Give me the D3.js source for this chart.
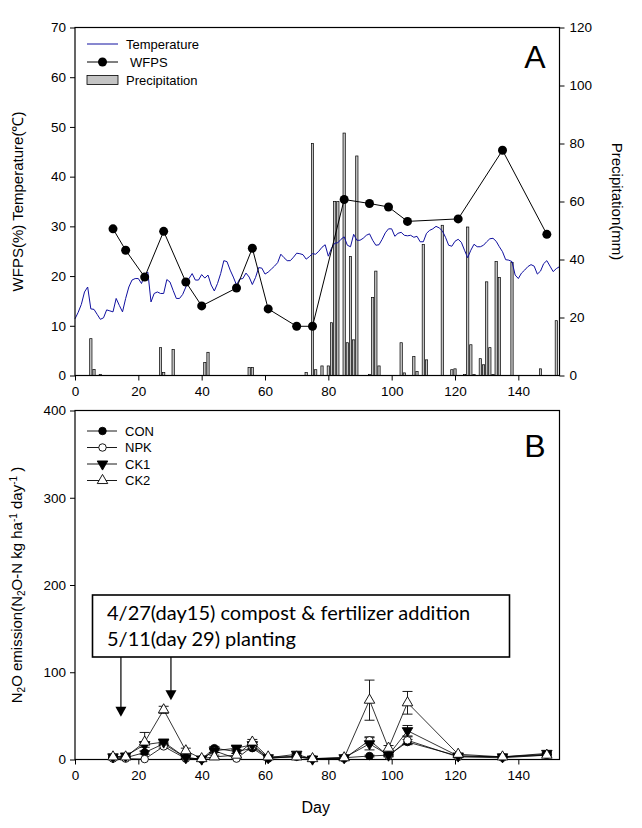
<!DOCTYPE html>
<html><head><meta charset="utf-8">
<script src="https://cdn.jsdelivr.net/npm/d3@7"></script>
<style>body{margin:0;background:#fff}svg{display:block}</style>
</head><body><svg id="c" width="642" height="828"></svg>
<script>
// ---------- DATA ----------
const tempStartDay = 0;
const temperature = [11.4,12.7,14.3,16.8,17.8,13.4,13.3,12.3,11.3,11.6,13.2,13.0,12.8,15.5,14.1,12.8,15.5,17.8,19.2,19.5,
19.5,18.5,20.2,20.8,14.8,16.5,16.8,16.5,16.5,19.3,18.8,17.1,15.5,15.5,16.3,17.8,19.5,20.5,19.2,19.2,
20.3,19.6,20.2,18.2,17.0,18.5,20.5,23.1,22.9,21.2,19.8,18.2,19.4,19.5,20.6,19.8,18.3,19.7,21.7,21.6,
20.4,20.8,21.4,22.0,22.7,24.4,23.7,23.1,23.1,23.8,24.6,24.5,24.3,23.4,23.9,24.5,24.4,25.0,25.8,26.3,
24.0,25.6,26.6,26.7,27.4,27.9,26.2,25.9,28.4,27.2,27.2,27.6,28.2,28.5,27.2,26.2,26.3,27.4,28.7,29.5,
29.5,28.0,28.6,28.8,28.2,28.1,28.2,27.8,28.0,26.9,26.9,28.6,29.2,29.5,30.0,29.7,29.1,27.8,26.2,26.0,
27.0,27.4,26.8,25.2,23.7,25.2,26.4,25.9,25.9,26.2,26.9,27.5,27.6,27.0,25.9,24.9,23.3,23.2,22.9,20.2,
19.5,20.6,21.2,21.9,22.3,22.0,20.4,21.0,22.5,23.1,22.0,20.9,21.5,21.9];
const wfpsDays = [12,16,22,28,35,40,51,56,61,70,75,85,93,99,105,121,135,149];
const wfps     = [29.5,25.2,19.8,29.0,18.8,14.0,17.6,25.6,13.4,9.9,9.9,35.4,34.6,33.9,31.0,31.5,45.3,28.4];
const precipDays = [5,6,8,27,28,31,41,42,55,56,73,75,76,78,80,81,82,83,85,86,87,88,89,93,94,95,96,103,104,107,108,110,111,116,119,120,123,124,125,126,128,129,130,131,132,133,134,138,147,152];
const precipMm   = [12.7,2.1,0.4,9.6,1.0,9.0,4.5,8.0,2.8,2.8,1.0,80,2.0,3.3,3.3,18.2,60,60,83.6,11.3,41,12.3,75.7,0.4,26.9,36,3.3,11.3,0.9,6.5,1.4,45.2,5.4,51.8,2.0,2.3,0.3,51.2,10.6,0.3,5.8,3.7,32.3,9.6,0.3,39.3,33.8,39,2.3,18.9];

const xTicks  = [0,20,40,60,80,100,120,140];
const yTicksA = [0,10,20,30,40,50,60,70];
const yTicksP = [0,20,40,60,80,100,120];
const yTicksB = [0,100,200,300,400];

const n2oDays = [12,16,22,28,35,40,44,51,56,61,70,75,85,93,99,105,121,135,149];
const CON  = [2,2,8,18,2,0.5,13,9,13,1,4,1,2,4,5,20,4,3,6];
const NPK  = [1,1,0.5,15,1,0.5,10,1,15,2,3,1,1,22,4,22,3,2,5];
const CK1  = [3,4,17,20,2,0.5,10,13,17,2,6,0.5,2,18,5,33,4,3,7];
const CK2  = [3,3,20,57,10,1,3,5,20,3,3,1,2,68,13,65,6,3,5];
const CONerr = [1,1,2,2,1,0,2,2,2,0,1,0,0,1,1,3,1,1,1];
const NPKerr = [1,1,0,2,0,0,2,0,2,0,1,0,0,4,1,4,1,0,1];
const CK1err = [1,1,3,2,1,0,2,2,2,0,1,0,0,7,1,6,1,1,1];
const CK2err = [1,1,11,4,3,0,2,2,3,1,1,0,1,23,3,13,1,1,1];
const seriesNames = ["CON","NPK","CK1","CK2"];

const annotationLines = ["4/27(day15) compost & fertilizer addition","5/11(day 29) planting"];
const arrowDays = [14.5,30.3];
const arrowTips = [49,68];

// ---------- LAYOUT ----------
const svg = d3.select("#c");
const FONT = "'Liberation Sans', Arial, sans-serif";
const x  = d3.scaleLinear().domain([0,153]).range([75,559.5]);
const yA = d3.scaleLinear().domain([0,70]).range([375.5,27.5]);
const yP = d3.scaleLinear().domain([0,120]).range([375.5,27.5]);
const yB = d3.scaleLinear().domain([0,400]).range([759.5,410.5]);

function styleAxis(g, fs){
  g.selectAll("text").attr("font-family",FONT).attr("font-size",fs).attr("fill","#000");
  g.selectAll("line").attr("stroke","#000");
  g.select(".domain").remove();
}

// ---------- PANEL A ----------
const A = svg.append("g");
const bw = 2.3;
A.selectAll("rect.bar").data(precipDays).join("rect")
  .attr("x", (d)=>x(d)-bw/2).attr("width",bw)
  .attr("y",(d,i)=>yP(precipMm[i])).attr("height",(d,i)=>yP(0)-yP(precipMm[i]))
  .attr("fill","#c4c4c4").attr("stroke","#000").attr("stroke-width",0.7);

const tempData = temperature.map((v,i)=>[tempStartDay+i,v]);
A.append("path").datum(tempData)
  .attr("d", d3.line().x(d=>x(d[0])).y(d=>yA(d[1])))
  .attr("fill","none").attr("stroke","#1010a0").attr("stroke-width",1);

const wData = wfpsDays.map((d,i)=>[d,wfps[i]]);
A.append("path").datum(wData)
  .attr("d", d3.line().x(d=>x(d[0])).y(d=>yA(d[1])))
  .attr("fill","none").attr("stroke","#000").attr("stroke-width",1);
A.selectAll("circle.w").data(wData).join("circle")
  .attr("cx",d=>x(d[0])).attr("cy",d=>yA(d[1])).attr("r",4.5).attr("fill","#000");

A.append("rect").attr("x",x(0)).attr("y",yA(70)).attr("width",x(153)-x(0)).attr("height",yA(0)-yA(70))
  .attr("fill","none").attr("stroke","#000").attr("stroke-width",1.2);

A.append("g").attr("transform",`translate(${x(0)},0)`)
  .call(d3.axisLeft(yA).tickValues(yTicksA).tickSize(5).tickPadding(4).tickSizeOuter(0))
  .call(g=>styleAxis(g,13.5));
A.append("g").attr("transform",`translate(${x(153)},0)`)
  .call(d3.axisRight(yP).tickValues(yTicksP).tickSize(5).tickPadding(5).tickSizeOuter(0))
  .call(g=>styleAxis(g,13.5));
A.append("g").attr("transform",`translate(0,${yA(0)})`)
  .call(d3.axisBottom(x).tickValues(xTicks).tickSize(5).tickPadding(6).tickSizeOuter(0))
  .call(g=>styleAxis(g,13.5));

A.append("text").attr("transform",`translate(23,${(yA(0)+yA(70))/2}) rotate(-90)`)
  .attr("text-anchor","middle").attr("font-family",FONT).attr("font-size",15)
  .text("WFPS(%) Temperature(℃)");
A.append("text").attr("transform",`translate(612,${(yA(0)+yA(70))/2}) rotate(90)`)
  .attr("text-anchor","middle").attr("font-family",FONT).attr("font-size",15)
  .text("Precipitation(mm)");
A.append("text").attr("x",535).attr("y",68).attr("text-anchor","middle")
  .attr("font-family",FONT).attr("font-size",32).text("A");

const LA = A.append("g").attr("font-family",FONT).attr("font-size",13);
LA.append("line").attr("x1",87).attr("x2",118).attr("y1",44).attr("y2",44).attr("stroke","#1010a0");
LA.append("text").attr("x",126).attr("y",48.5).text("Temperature");
LA.append("line").attr("x1",87).attr("x2",118).attr("y1",62).attr("y2",62).attr("stroke","#000");
LA.append("circle").attr("cx",102.5).attr("cy",62).attr("r",4.5).attr("fill","#000");
LA.append("text").attr("x",130).attr("y",66.5).text("WFPS");
LA.append("rect").attr("x",87).attr("y",75.5).attr("width",31).attr("height",9).attr("fill","#c4c4c4").attr("stroke","#000").attr("stroke-width",0.8);
LA.append("text").attr("x",126).attr("y",84.5).text("Precipitation");

// ---------- PANEL B ----------
const B = svg.append("g");
B.append("rect").attr("x",x(0)).attr("y",yB(400)).attr("width",x(153)-x(0)).attr("height",yB(0)-yB(400))
  .attr("fill","none").attr("stroke","#000").attr("stroke-width",1.2);

B.append("g").attr("transform",`translate(${x(0)},0)`)
  .call(d3.axisLeft(yB).tickValues(yTicksB).tickSize(5).tickPadding(4).tickSizeOuter(0))
  .call(g=>styleAxis(g,13.5));
B.append("g").attr("transform",`translate(0,${yB(0)})`)
  .call(d3.axisBottom(x).tickValues(xTicks).tickSize(5).tickPadding(6).tickSizeOuter(0))
  .call(g=>styleAxis(g,13.5));

const series = [
  {name:"CON", v:CON, e:CONerr, type:"circle", fill:"#000"},
  {name:"NPK", v:NPK, e:NPKerr, type:"circle", fill:"#fff"},
  {name:"CK1", v:CK1, e:CK1err, type:"down", fill:"#000"},
  {name:"CK2", v:CK2, e:CK2err, type:"up", fill:"#fff"}
];
const sym = {circle:d3.symbol(d3.symbolCircle,44), up:d3.symbol(d3.symbolTriangle,48),
             down:d3.symbol(d3.symbolTriangle,48)};
function marker(g, s, cx, cy){
  const p = g.append("path").attr("d", sym[s.type]())
    .attr("fill", s.fill).attr("stroke","#000").attr("stroke-width",0.9);
  p.attr("transform", `translate(${cx},${cy})` + (s.type==="down"?" rotate(180)":""));
}
series.forEach(s=>{
  B.append("path").datum(n2oDays.map((d,i)=>[d,s.v[i]]))
   .attr("d", d3.line().x(d=>x(d[0])).y(d=>yB(d[1])))
   .attr("fill","none").attr("stroke","#000").attr("stroke-width",0.8);
});
series.forEach(s=>{
  n2oDays.forEach((d,i)=>{
    if(!s.e[i]) return;
    const cx=x(d), y1=yB(s.v[i]+s.e[i]), y0=yB(Math.max(0,s.v[i]-s.e[i]));
    B.append("line").attr("x1",cx).attr("x2",cx).attr("y1",y0).attr("y2",y1).attr("stroke","#000").attr("stroke-width",0.9);
    B.append("line").attr("x1",cx-5).attr("x2",cx+5).attr("y1",y1).attr("y2",y1).attr("stroke","#000").attr("stroke-width",0.9);
    B.append("line").attr("x1",cx-5).attr("x2",cx+5).attr("y1",y0).attr("y2",y0).attr("stroke","#000").attr("stroke-width",0.9);
  });
});
series.forEach(s=>{
  n2oDays.forEach((d,i)=>marker(B,s,x(d),yB(s.v[i])));
});

const LB = B.append("g").attr("font-family",FONT).attr("font-size",13);
const legY = [431,447.5,464,480.5];
series.forEach((s,i)=>{
  LB.append("line").attr("x1",87).attr("x2",117).attr("y1",legY[i]).attr("y2",legY[i]).attr("stroke","#000").attr("stroke-width",0.9);
  marker(LB,s,102.5,legY[i]);
  LB.append("text").attr("x",125).attr("y",legY[i]+4.5).text(s.name);
});
B.append("text").attr("x",535).attr("y",457).attr("text-anchor","middle")
  .attr("font-family",FONT).attr("font-size",32).text("B");

// annotation box
B.append("rect").attr("x",92.5).attr("y",595).attr("width",417).attr("height",62)
  .attr("fill","#fff").attr("stroke","#000").attr("stroke-width",1.6);
const at = B.append("g").attr("font-family","Lato,'Liberation Sans',sans-serif").attr("font-size",18);
annotationLines.forEach((t,i)=>{
  at.append("text").attr("x",107).attr("y",i===0?620:645.5).text(t);
});
const t0 = at.select("text").node();
const wNow = t0.getComputedTextLength();
at.attr("font-size", Math.min(20, 18*376/wNow));

arrowDays.forEach((d,i)=>{
  const cx=x(d), tip=yB(arrowTips[i]);
  B.append("line").attr("x1",cx).attr("x2",cx).attr("y1",657).attr("y2",tip-9).attr("stroke","#000").attr("stroke-width",1.2);
  B.append("path").attr("d",`M${cx-5.5},${tip-10}L${cx+5.5},${tip-10}L${cx},${tip}Z`).attr("fill","#000");
});

const ty = B.append("text").attr("transform",`translate(22,${(yB(0)+yB(400))/2}) rotate(-90)`)
  .attr("text-anchor","middle").attr("font-family",FONT).attr("font-size",15);
const parts = [["N",0],["2",1],["O emission(N",0],["2",1],["O-N kg ha",0],["-1",2],[" day",0],["-1",2],[" )",0]];
parts.forEach(([t,k])=>{
  const sp = ty.append("tspan").text(t);
  if(k===1) sp.attr("font-size",10).attr("baseline-shift","-25%");
  if(k===2) sp.attr("font-size",10).attr("baseline-shift","50%");
});
svg.append("text").attr("x",x(76)).attr("y",813).attr("text-anchor","middle")
  .attr("font-family",FONT).attr("font-size",16).text("Day");
</script></body></html>
